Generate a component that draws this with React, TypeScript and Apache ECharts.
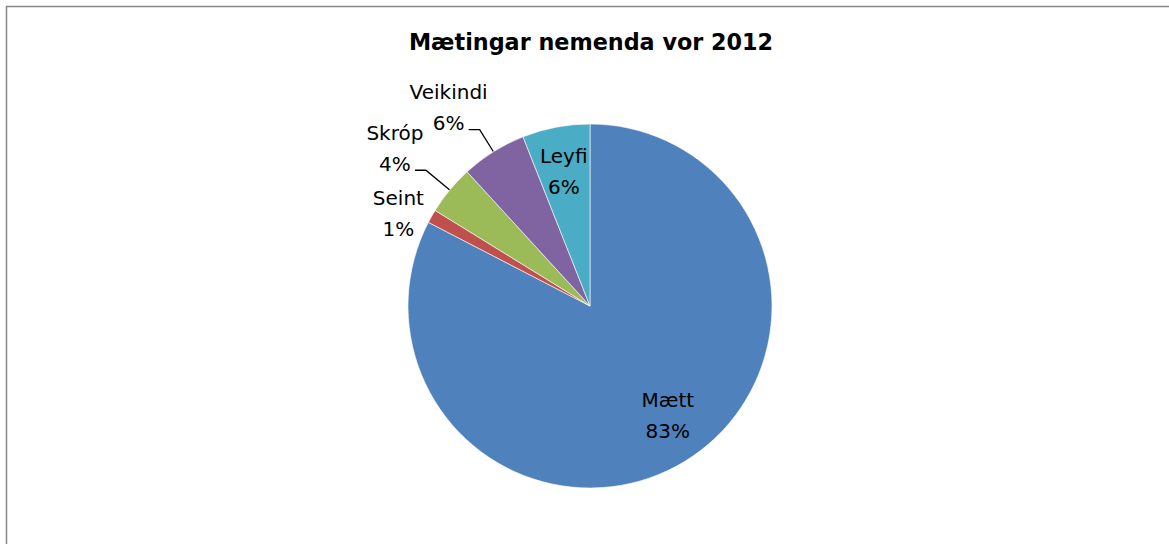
import React, { useEffect, useRef } from 'react';
import * as echarts from 'echarts';

const categories = ['Mætt', 'Seint', 'Skróp', 'Veikindi', 'Leyfi'];
const values = [82.6, 1.2, 4.4, 5.8, 6.0];
const colors = ['#4F81BD', '#C0504D', '#9BBB59', '#8064A2', '#4BACC6'];
const insideLabelNames = ['Mætt', 'Leyfi'];
const noLineNames = ['Seint'];
const titleText = 'Mætingar nemenda vor 2012';

const FONT = 'DejaVu Sans';

export default function App() {
  const ref = useRef<HTMLDivElement>(null);
  useEffect(() => {
    if (!ref.current) return;
    const chart = echarts.init(ref.current, undefined, { renderer: 'svg' });
    const base = { fontFamily: FONT, fontSize: 20, lineHeight: 31, align: 'center', color: '#000' };
    const rich = {
      a: { ...base, width: 34 },
      b: { ...base, width: 50 },
      c: { ...base, width: 84 },
    };
    const makeFmt = (tag: string) => (p: any) =>
      `{${tag}|${p.name}}\n{${tag}|${Math.round(p.percent)}%}`;

    const lineLength: Record<string, number> = { 'Skróp': 31, 'Veikindi': 26 };
    const outerData = categories.map((name, i) => {
      const inside = insideLabelNames.includes(name);
      const noLine = noLineNames.includes(name);
      return {
        name,
        value: values[i],
        itemStyle: { color: colors[i] },
        label: {
          show: !inside,
          formatter: makeFmt(noLine ? 'b' : 'a'),
          padding: noLine ? [0, 0, 0, 0] : [0, 0, 44, 0],
        },
        labelLine: noLine
          ? { show: false, length: 6, length2: 0 }
          : { show: !inside, length: lineLength[name] || 26 },
      };
    });
    const innerPadding: Record<string, number[]> = {
      'Mætt': [0, 0, 20, 10],
      'Leyfi': [6, 0, 0, 0],
    };
    const innerLabelData = categories.map((name, i) => ({
      name,
      value: values[i],
      itemStyle: { color: 'rgba(0,0,0,0)' },
      label: {
        show: insideLabelNames.includes(name),
        padding: innerPadding[name] || [0, 0, 0, 0],
      },
    }));
    chart.setOption({
      animation: false,
      backgroundColor: '#fff',
      title: {
        text: titleText,
        left: 586,
        top: 26,
        textAlign: 'center',
        textStyle: { fontFamily: FONT, fontWeight: 'bold', fontSize: 22.3, color: '#000' },
      },
      graphic: [
        {
          type: 'rect',
          shape: { x: 6.5, y: 6.5, width: 1300, height: 700 },
          style: { fill: 'none', stroke: '#868686', lineWidth: 1.5 },
          silent: true,
        },
      ],
      series: [
        {
          type: 'pie',
          center: [590, 306],
          radius: 182,
          startAngle: 90,
          clockwise: true,
          avoidLabelOverlap: false,
          labelLayout: { hideOverlap: false, moveOverlap: null },
          itemStyle: { borderColor: '#fff', borderWidth: 0.6 },
          label: {
            position: 'outside',
            rich,
            distanceToLabelLine: 3,
          },
          labelLine: { length: 26, length2: 11, lineStyle: { color: '#000', width: 1.3 } },
          emphasis: { disabled: true },
          data: outerData,
        },
        {
          type: 'pie',
          center: [590, 306],
          radius: [92, 182],
          startAngle: 90,
          clockwise: true,
          silent: true,
          avoidLabelOverlap: false,
          labelLayout: { hideOverlap: false },
          label: { position: 'inside', formatter: makeFmt('c'), rich },
          labelLine: { show: false },
          emphasis: { disabled: true },
          data: innerLabelData,
        },
      ],
    });
    return () => chart.dispose();
  }, []);
  return <div ref={ref} style={{ position: 'absolute', left: 0, top: 0, width: 1169, height: 544 }} />;
}
